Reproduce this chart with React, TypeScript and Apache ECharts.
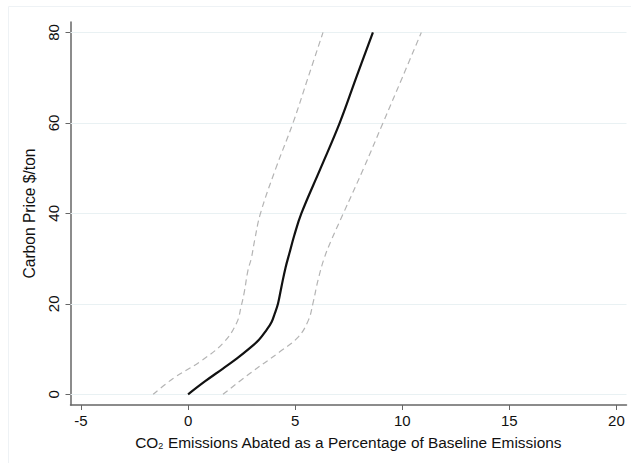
import React, { useEffect, useRef } from "react";
import * as echarts from "echarts";

const centralX = [0, 0.8, 1.63, 2.3, 2.88, 3.3, 3.66, 3.9, 4.05, 4.2, 4.36, 4.55, 4.75, 4.95, 5.29, 6.19, 7.08, 7.85, 8.63];
const centralY = [0, 2.9, 5.7, 8, 10.2, 12, 14.2, 16, 17.9, 20.1, 23.8, 28, 31.5, 35, 40, 50, 60, 70, 80];

const lowerX = [-1.63, -0.7, 0.55, 1.63, 2.26, 2.49, 2.62, 2.8, 2.95, 3.11, 3.38, 4.1, 4.9, 5.6, 6.3];
const lowerY = [0, 3.5, 7.2, 11.3, 15.7, 19.7, 22.5, 27.5, 30, 34.1, 40, 50, 60, 70, 80];

const upperX = [1.63, 2.88, 4.28, 5.15, 5.62, 5.83, 6.07, 6.35, 6.69, 7.25, 8.2, 9.1, 10.0, 10.89];
const upperY = [0, 4.6, 9.4, 12.7, 16.4, 20.1, 25.3, 30, 34.1, 40, 50, 60, 70, 80];

const xTicks = [-5, 0, 5, 10, 15, 20];
const yTicks = [0, 20, 40, 60, 80];

const FONT = "'Liberation Sans', Arial, Helvetica, sans-serif";

export default function App() {
  const ref = useRef<HTMLDivElement>(null);
  useEffect(() => {
    if (!ref.current) return;
    const chart = echarts.init(ref.current, undefined, { renderer: "svg" });
    const zip = (xs: number[], ys: number[]) => xs.map((x, i) => [x, ys[i]]);
    const axisColor = "#666666";
    chart.setOption({
      animation: false,
      backgroundColor: "#ffffff",
      graphic: [
        {
          type: "rect",
          shape: { x: 8.5, y: 6.5, width: 800, height: 800 },
          style: { fill: "none", stroke: "#eef2f5", lineWidth: 1 },
          silent: true,
          z: -10,
        },
      ],
      grid: { left: 70.5, right: 4.5, top: 22, bottom: 58, containLabel: false },
      xAxis: {
        type: "value",
        min: -5.49,
        max: 20.47,
        name: "{a|CO}{s|2}{a| Emissions Abated as a Percentage of Baseline Emissions}",
        nameLocation: "middle",
        nameGap: 29,
        nameTextStyle: {
          rich: {
            a: { fontFamily: FONT, fontSize: 15.4, color: "#111" },
            s: { fontFamily: FONT, fontSize: 9, color: "#111", verticalAlign: "bottom", padding: [7, 0, 0, 0] },
          },
        },
        axisLine: { show: true, onZero: false, lineStyle: { color: axisColor, width: 1.5 } },
        axisTick: { show: true, length: 5, customValues: xTicks, lineStyle: { color: axisColor, width: 1 } },
        axisLabel: { customValues: xTicks, fontFamily: FONT, fontSize: 15, color: "#111", margin: 8 },
        splitLine: { show: false },
      },
      yAxis: {
        type: "value",
        min: -2.36,
        max: 82.3,
        name: "Carbon Price $/ton",
        nameLocation: "middle",
        nameGap: 31,
        nameTextStyle: { fontFamily: FONT, fontSize: 15.6, color: "#111" },
        axisLine: { show: true, onZero: false, lineStyle: { color: axisColor, width: 1.5 } },
        axisTick: { show: true, length: 5, customValues: yTicks, lineStyle: { color: axisColor, width: 1 } },
        axisLabel: { customValues: yTicks, rotate: 90, fontFamily: FONT, fontSize: 15, color: "#111", margin: 10 },
        splitLine: { show: false },
      },
      series: [
        {
          type: "line",
          data: zip(lowerX, lowerY),
          smooth: 0.4,
          showSymbol: false,
          lineStyle: { color: "#b4b4b4", width: 1.2, type: [6, 4] },
          z: 3,
          markLine: {
            silent: true,
            symbol: "none",
            label: { show: false },
            lineStyle: { color: "#e9f1f3", width: 1, type: "solid" },
            data: yTicks.map((v) => ({ yAxis: v })),
            z: 1,
          },
        },
        {
          type: "line",
          data: zip(upperX, upperY),
          smooth: 0.4,
          showSymbol: false,
          lineStyle: { color: "#b4b4b4", width: 1.2, type: [6, 4] },
          z: 3,
        },
        {
          type: "line",
          data: zip(centralX, centralY),
          smooth: 0.4,
          showSymbol: false,
          lineStyle: { color: "#111111", width: 2.2 },
          z: 4,
        },
      ],
    });
    return () => chart.dispose();
  }, []);
  return (
    <div
      ref={ref}
      style={{ position: "absolute", left: 0, top: 0, width: 631, height: 463 }}
    />
  );
}
